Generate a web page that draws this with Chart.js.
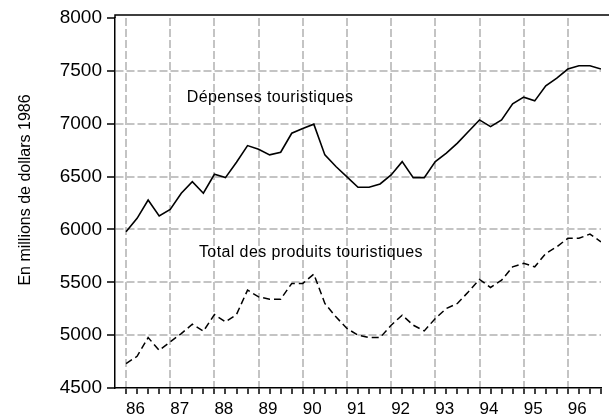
<!DOCTYPE html>
<html>
<head>
<meta charset="utf-8">
<script src="https://cdn.jsdelivr.net/npm/chart.js@4/dist/chart.umd.min.js"></script>
<style>
  html, body { margin: 0; padding: 0; background: #fff; }
  #wrap { width: 609px; height: 418px; }
</style>
</head>
<body>
<div id="wrap"><canvas id="myChart" width="609" height="418"></canvas></div>
<script>
'use strict'
// data, quarterly 86Q1 .. 96Q4
let years = ['86', '87', '88', '89', '90', '91', '92', '93', '94', '95', '96'];
let seriesNames = ['Dépenses touristiques', 'Total des produits touristiques'];
let yTicks = [4500, 5000, 5500, 6000, 6500, 7000, 7500, 8000];
let yTitle = 'En millions de dollars 1986';

let depenses = [
  5978, 6105, 6278, 6127, 6190, 6342, 6452, 6342,
  6522, 6490, 6636, 6793, 6759, 6705, 6730, 6910,
  6955, 6996, 6705, 6595, 6497, 6399, 6399, 6430,
  6515, 6641, 6490, 6490, 6641, 6721, 6816, 6926,
  7036, 6973, 7036, 7188, 7251, 7216, 7359, 7431,
  7517, 7548, 7548, 7517
];
let totalProduits = [
  4731, 4800, 4977, 4857, 4936, 5015, 5103, 5037,
  5195, 5125, 5195, 5426, 5362, 5340, 5340, 5489,
  5489, 5577, 5300, 5173, 5063, 5000, 4977, 4977,
  5094, 5189, 5094, 5040, 5158, 5252, 5300, 5410,
  5527, 5451, 5520, 5646, 5679, 5646, 5773, 5836,
  5916, 5916, 5956, 5883
];

function toPoints(arr) {
  let pts = [];
  for (let i = 0; i < arr.length; i++) {
    pts.push({ x: i, y: arr[i] });
  }
  return pts;
}

const FONT = "'Liberation Sans', Arial, sans-serif";

// frame top line, y title and in-plot labels
const extras = {
  id: 'extras',
  afterDraw(chart) {
    const c = chart.ctx;
    const a = chart.chartArea;
    const xs = chart.scales.x;
    const ys = chart.scales.y;
    c.save();
    c.strokeStyle = '#000';
    c.lineWidth = 1.5;
    c.beginPath();
    c.moveTo(a.left, a.top);
    c.lineTo(a.left, a.top - 3);
    c.lineTo(chart.width, a.top - 3);
    c.stroke();

    c.fillStyle = '#000';
    c.font = '16px ' + FONT;
    c.letterSpacing = '0.4px';
    c.textBaseline = 'alphabetic';
    c.textAlign = 'left';
    c.fillText(seriesNames[0], xs.getPixelForValue(5.5), ys.getPixelForValue(7210));
    c.fillText(seriesNames[1], xs.getPixelForValue(6.6), ys.getPixelForValue(5735));

    c.translate(26, (a.top + a.bottom) / 2 - 13);
    c.rotate(-Math.PI / 2);
    c.textAlign = 'center';
    c.textBaseline = 'middle';
    c.letterSpacing = '0px';
    c.font = '16px ' + FONT;
    c.fillText(yTitle, 0, 0);
    c.restore();
  }
};

const ctx = document.getElementById('myChart');

new Chart(ctx, {
  type: 'line',
  data: {
    datasets: [
      {
        label: seriesNames[0],
        data: toPoints(depenses),
        borderColor: '#000',
        borderWidth: 1.6,
        pointRadius: 0,
        tension: 0
      },
      {
        label: seriesNames[1],
        data: toPoints(totalProduits),
        borderColor: '#000',
        borderWidth: 1.5,
        borderDash: [7, 4],
        pointRadius: 0,
        tension: 0
      }
    ]
  },
  options: {
    responsive: false,
    animation: false,
    layout: { padding: { top: 18, right: 8, left: 0, bottom: 0 } },
    plugins: {
      legend: { display: false },
      tooltip: { enabled: false }
    },
    scales: {
      x: {
        type: 'linear',
        min: -1,
        max: 43,
        afterFit: function (scale) { scale.height = 30; },
        ticks: {
          stepSize: 1,
          autoSkip: false,
          maxRotation: 0,
          includeBounds: false,
          align: 'start',
          padding: 5,
          color: '#000',
          font: { family: FONT, size: 17 },
          callback: function (v) {
            return (v >= 0 && v % 4 === 0) ? years[v / 4] : '';
          }
        },
        grid: {
          color: function (c) {
            let v = c.tick ? c.tick.value : -1;
            return (v >= 0 && v % 4 === 0) ? '#c4c4c4' : 'rgba(0,0,0,0)';
          },
          lineWidth: 2,
          tickColor: function (c) {
            let v = c.tick ? c.tick.value : -1;
            return v < 0 ? 'rgba(0,0,0,0)' : '#000';
          },
          tickWidth: 1.5,
          tickLength: 6
        },
        border: { color: '#000', width: 1.5, dash: [8, 3] }
      },
      y: {
        min: yTicks[0],
        max: yTicks[yTicks.length - 1],
        afterFit: function (scale) { scale.width = 115; },
        afterBuildTicks: function (scale) {
          scale.ticks = yTicks.map(v => ({ value: v }));
        },
        ticks: {
          padding: 5,
          color: '#000',
          font: { family: FONT, size: 19 },
          callback: function (v) { return String(v); }
        },
        grid: {
          color: function (c) {
            let v = c.tick ? c.tick.value : 0;
            return (v > yTicks[0] && v < yTicks[yTicks.length - 1]) ? '#c4c4c4' : 'rgba(0,0,0,0)';
          },
          lineWidth: 2,
          tickColor: '#000',
          tickWidth: 1.5,
          tickLength: 8
        },
        border: { color: '#000', width: 1.5, dash: [8, 3] }
      }
    }
  },
  plugins: [extras]
});
</script>
</body>
</html>
